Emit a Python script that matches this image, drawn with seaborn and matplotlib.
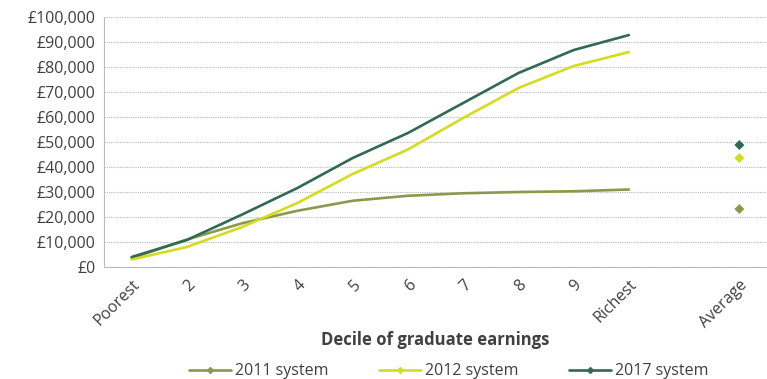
import matplotlib
matplotlib.use("Agg")
import matplotlib.pyplot as plt
from matplotlib.lines import Line2D
import numpy as np
import pandas as pd
import seaborn as sns

categories = ["Poorest", "2", "3", "4", "5", "6", "7", "8", "9", "Richest", "", "Average"]
deciles = categories[:10]
series_names = ["2011 system", "2012 system", "2017 system"]
values_2011 = [3500, 11000, 17500, 22500, 26500, 28500, 29500, 30000, 30300, 31000]
values_2012 = [3000, 8000, 16000, 25600, 37200, 47000, 59600, 71600, 80400, 86000]
values_2017 = [4000, 10800, 21000, 31600, 43600, 53600, 65600, 77600, 86800, 92800]
averages = [23200, 43600, 48800]
colors = ["#8a9a4b", "#d4dc1e", "#2f6a52"]

sns.set_theme(style="white")
plt.rcParams["font.family"] = ["Open Sans", "DejaVu Sans"]

rows = []
for name, vals in zip(series_names, [values_2011, values_2012, values_2017]):
    for i, v in enumerate(vals):
        rows.append({"system": name, "pos": i, "value": v})
df = pd.DataFrame(rows)
avg_df = pd.DataFrame({"system": series_names, "pos": [11] * 3, "value": averages})

fig = plt.figure(figsize=(7.67, 3.79), dpi=100)
ax = fig.add_axes([0.1356, 0.2955, 0.8644, 0.6595])

palette = dict(zip(series_names, colors))
sns.lineplot(data=df, x="pos", y="value", hue="system", palette=palette,
             linewidth=1.9, ax=ax, legend=False)
sns.scatterplot(data=avg_df, x="pos", y="value", hue="system", palette=palette,
                marker="D", s=26, edgecolor="none", ax=ax, legend=False, zorder=5)

ax.set_xlim(-0.5, 11.5)
ax.set_ylim(0, 100000)
ax.set_yticks(np.arange(0, 100001, 10000))
ax.set_yticklabels([f"£{v:,.0f}" for v in np.arange(0, 100001, 10000)],
                   fontsize=11.5, color="#404040")
ax.set_xticks(range(12))
ax.set_xticklabels(categories, rotation=45, ha="right", rotation_mode="anchor",
                   fontsize=11.5, color="#404040")
ax.set_xticks(np.arange(-0.5, 12, 1), minor=True)
ax.tick_params(axis="x", which="major", length=0, pad=7)
ax.tick_params(axis="x", which="minor", length=4, color="#bbbbbb", width=0.8)
ax.tick_params(axis="y", length=4, color="#bbbbbb", width=0.8, pad=2)
ax.yaxis.grid(True, color="#b8b8b8", linestyle=(0, (1, 1)), linewidth=0.8)
ax.set_axisbelow(True)
for s in ["top", "right"]:
    ax.spines[s].set_visible(False)
for s in ["left", "bottom"]:
    ax.spines[s].set_color("#bbbbbb")
    ax.spines[s].set_linewidth(0.8)

ax.set_xlabel("Decile of graduate earnings", fontsize=12, fontweight="bold",
              color="#404040", labelpad=0)
ax.set_ylabel("")

handles = [Line2D([0], [0], color=c, lw=1.9, marker="D", markersize=3)
           for c in colors]
fig.legend(handles, series_names, loc="lower center", ncol=3, frameon=False,
           bbox_to_anchor=(0.585, -0.035), fontsize=11.5, handlelength=2.6,
           handletextpad=0.25, columnspacing=3.2, labelcolor="#404040",
           borderpad=0.3)

fig.savefig("out.png", dpi=100)
